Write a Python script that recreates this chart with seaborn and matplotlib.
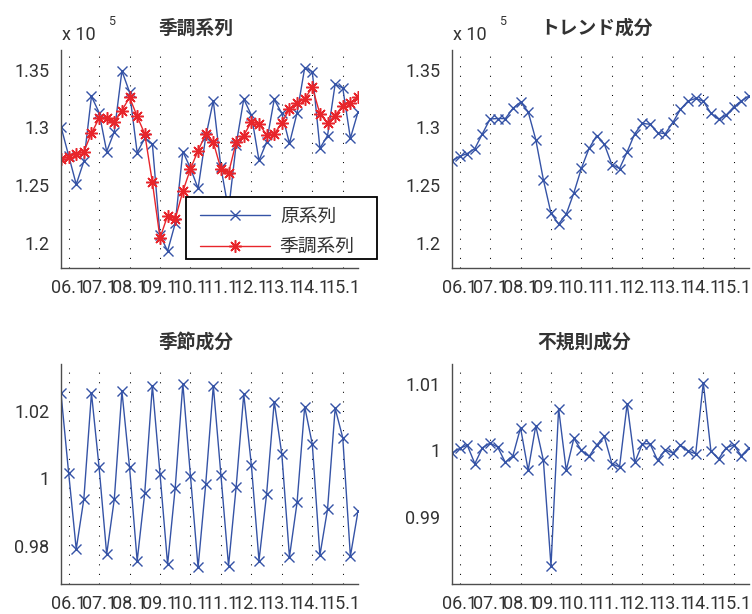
import numpy as np
import pandas as pd
import matplotlib
matplotlib.use("Agg")
import matplotlib.pyplot as plt
from matplotlib.patches import Rectangle
from matplotlib.ticker import FixedLocator, FixedFormatter
import seaborn as sns

# Quarterly series, 2005Q4 .. 2015Q3 (40 quarters)
quarter_index = list(range(40))
year_ticks = [1, 5, 9, 13, 17, 21, 25, 29, 33, 37]
year_labels = ["06.1", "07.1", "08.1", "09.1", "10.1",
               "11.1", "12.1", "13.1", "14.1", "15.1"]

original = [130050, 127550, 125050, 127050, 132680, 131280, 127900, 129620,
            134880, 133050, 127800, 129050, 128550, 120650, 119270, 121680,
            127900, 126450, 124700, 129150, 132300, 126520, 122800, 128500,
            132450, 131050, 127120, 128720, 132420, 131200, 128600, 131250,
            135150, 134830, 128180, 129280, 133750, 133400, 129050, 131320]

seasonally_adjusted = [127250, 127460, 127690, 127890, 129480, 130780, 130810, 130490,
                       131450, 132600, 130950, 129420, 125230, 120400, 122340, 122050,
                       124450, 126390, 127980, 129380, 128700, 126390, 126040, 128700,
                       129280, 130490, 130290, 129340, 129420, 130380, 131590, 132110,
                       132460, 133470, 131160, 130380, 131010, 131880, 132110, 132660]

trend = [127110, 127470, 127720, 128150, 129450, 130720, 130760, 130750,
         131640, 132180, 131350, 128930, 125450, 122550, 121610, 122470,
         124310, 126460, 128170, 129270, 128540, 126760, 126420, 127870,
         129450, 130340, 130260, 129540, 129440, 130420, 131550, 132280,
         132500, 132270, 131210, 130700, 131060, 131760, 132290, 132710]

seasonal = [1.0251, 1.0017, 0.9791, 0.9939, 1.0252, 1.0033, 0.9776, 0.9939,
            1.0258, 1.0033, 0.9756, 0.9958, 1.0274, 1.0014, 0.9746, 0.9973,
            1.0280, 1.0007, 0.9737, 0.9982, 1.0274, 1.0010, 0.9742, 0.9975,
            1.0249, 1.0039, 0.9757, 0.9954, 1.0227, 1.0071, 0.9768, 0.9929,
            1.0212, 1.0101, 0.9773, 0.9909, 1.0207, 1.0120, 0.9770, 0.9903]

irregular = [0.9996, 1.0003, 1.0008, 0.9980, 1.0004, 1.0011, 1.0005, 0.9982,
             0.9992, 1.0034, 0.9970, 1.0037, 0.9985, 0.9826, 1.0063, 0.9970,
             1.0018, 1.0000, 0.9991, 1.0008, 1.0021, 0.9980, 0.9975, 1.0070,
             0.9982, 1.0010, 1.0010, 0.9985, 1.0001, 0.9996, 1.0008, 0.9999,
             0.9995, 1.0102, 0.9999, 0.9987, 1.0004, 1.0008, 0.9992, 1.0004]

sns.set_style("white")
plt.rcParams["font.family"] = ["Roboto", "Noto Sans CJK JP", "DejaVu Sans"]
CJK = ["Noto Sans CJK JP", "DejaVu Sans"]

BLUE = "#3553A6"
RED = "#E8252B"
SPINE = "#4D4D4D"
TEXT = "#333333"

fig = plt.figure(figsize=(7.52, 6.14), dpi=100)
W, H = 752.0, 614.0


def make_axes(left, top, right, bottom):
    return fig.add_axes([left / W, 1 - bottom / H, (right - left) / W, (bottom - top) / H])


ax_sa = make_axes(61, 50, 358, 268)
ax_tr = make_axes(452, 50, 749, 268)
ax_se = make_axes(61, 364, 358, 584)
ax_ir = make_axes(452, 364, 749, 584)


def draw_series(ax, values, color, marker, label=None, ms=7.5, mew=1.0):
    df = pd.DataFrame({"q": quarter_index, "v": values})
    sns.lineplot(data=df, x="q", y="v", ax=ax, color=color, linewidth=1.0,
                 marker=marker, markersize=ms, markeredgecolor=color,
                 markeredgewidth=mew, markerfacecolor="none",
                 label=label, legend=False)


def style_axes(ax, yticks, ylabels, ylim, title, title_x):
    ax.set_xlim(0, 39)
    ax.set_ylim(*ylim)
    ax.xaxis.set_major_locator(FixedLocator(year_ticks))
    ax.xaxis.set_major_formatter(FixedFormatter(year_labels))
    ax.yaxis.set_major_locator(FixedLocator(yticks))
    ax.yaxis.set_major_formatter(FixedFormatter(ylabels))
    ax.set_xlabel("")
    ax.set_ylabel("")
    for side in ("top", "right"):
        ax.spines[side].set_visible(False)
    for side in ("left", "bottom"):
        ax.spines[side].set_color(SPINE)
        ax.spines[side].set_linewidth(1.0)
    ax.tick_params(axis="both", direction="in", length=4, width=0.8,
                   color=SPINE, labelcolor=TEXT, labelsize=13)
    ax.tick_params(axis="x", pad=8)
    ax.tick_params(axis="y", pad=8.5)
    for t in year_ticks:
        ax.axvline(t, color="black", linewidth=0.75, linestyle=(0, (1, 8.2)), zorder=0.5)
    ax.set_title(title, fontsize=13.5, fontweight="bold", color=TEXT, pad=12,
                 x=title_x, family=CJK)
    ax.set_facecolor("white")


def exponent_label(ax):
    ax.text(0.003, 0.046 + 1.0, "x 10", transform=ax.transAxes, fontsize=13,
            color=TEXT, ha="left", va="baseline")
    ax.text(0.158, 1.115, "5", transform=ax.transAxes, fontsize=9,
            color=TEXT, ha="left", va="baseline")


big_ticks = [120000, 125000, 130000, 135000]
big_labels = ["1.2", "1.25", "1.3", "1.35"]
big_lim = (117800, 136700)

# Top left: original vs seasonally adjusted
draw_series(ax_sa, original, BLUE, "x", label="原系列", ms=7.5)
draw_series(ax_sa, seasonally_adjusted, RED, (8, 2, 0), label="季調系列", ms=9, mew=1.1)
style_axes(ax_sa, big_ticks, big_labels, big_lim, "季調系列", 0.455)
exponent_label(ax_sa)

# legend box: white panel with a black border, entries placed inside it
box = Rectangle((185.5 / W, 1 - 259 / H), (377 - 185.5) / W, (259 - 197.5) / H,
                transform=fig.transFigure, facecolor="white", edgecolor="black",
                linewidth=1.3, clip_on=False, zorder=9)
ax_sa.add_patch(box)
leg = ax_sa.legend(loc="upper left", bbox_to_anchor=(200 / W, 1 - 206 / H),
                   bbox_transform=fig.transFigure, borderaxespad=0,
                   prop={"family": CJK, "size": 13.5}, frameon=False,
                   handlelength=3.73, handletextpad=0.53, borderpad=0,
                   labelspacing=0.5)
for txt in leg.get_texts():
    txt.set_color(TEXT)
leg.set_zorder(10)

# Top right: trend
draw_series(ax_tr, trend, BLUE, "x")
style_axes(ax_tr, big_ticks, big_labels, big_lim, "トレンド成分", 0.488)
exponent_label(ax_tr)

# Bottom left: seasonal factor
draw_series(ax_se, seasonal, BLUE, "x")
style_axes(ax_se, [0.98, 1.0, 1.02], ["0.98", "1", "1.02"], (0.9688, 1.0338),
           "季節成分", 0.455)

# Bottom right: irregular factor
draw_series(ax_ir, irregular, BLUE, "x")
style_axes(ax_ir, [0.99, 1.0, 1.01], ["0.99", "1", "1.01"], (0.9799, 1.0130),
           "不規則成分", 0.444)

fig.savefig("out.png", dpi=100, facecolor="white")
